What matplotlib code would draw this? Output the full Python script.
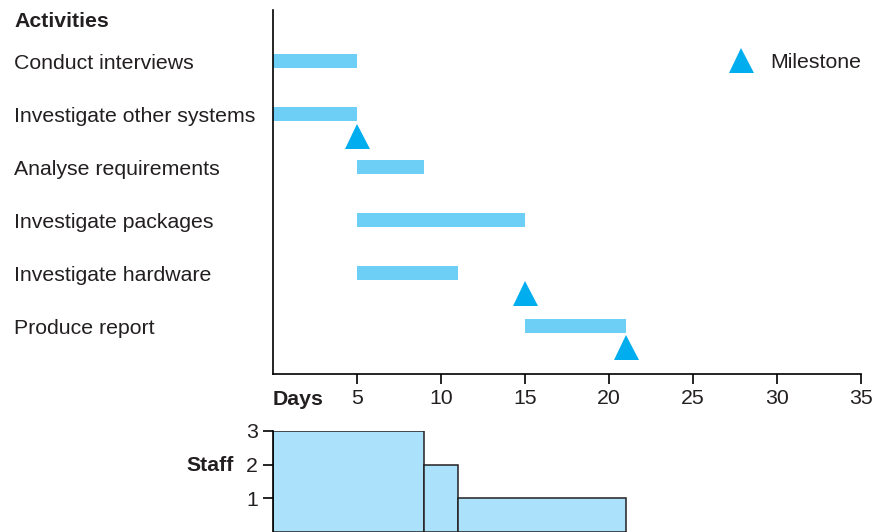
import numpy as np
import matplotlib.pyplot as plt
import matplotlib.transforms as mtransforms
from matplotlib.lines import Line2D

plt.rcParams['font.family'] = ['Liberation Sans', 'DejaVu Sans']

# activity data (days)
activities = ['Conduct interviews', 'Investigate other systems', 'Analyse requirements',
              'Investigate packages', 'Investigate hardware', 'Produce report']
starts = [0, 0, 5, 5, 5, 15]
durations = [5, 5, 4, 10, 6, 6]

# milestones: day and row position (offset below the row)
milestone_days = [5, 15, 21]
milestone_rows = [1.41, 4.38, 5.40]

# staff histogram
staff_left = [0, 9, 11]
staff_width = [9, 2, 10]
staff_count = [3, 2, 1]

xticks = [5, 10, 15, 20, 25, 30, 35]

W, H = 881, 532
fs = 15.3
fig = plt.figure(figsize=(W / 100, H / 100), dpi=100)
txt = '#231f20'

# top gantt axes
ax = fig.add_axes([273 / W, (H - 374) / H, 588 / W, 364 / H])
ax.set_xlim(0, 35)
ax.set_ylim(5.906, -0.962)
for i in range(len(activities)):
    ax.barh(i, durations[i], left=starts[i], height=0.27, color='#6dcff6', linewidth=0)
ax.plot(milestone_days, milestone_rows, linestyle='none', marker='^', markersize=18,
        color='#00aeef', markeredgewidth=0)

for s in ['top', 'right']:
    ax.spines[s].set_visible(False)
ax.spines['left'].set_linewidth(1.2)
ax.spines['bottom'].set_linewidth(1.2)
ax.set_yticks([])
ax.set_xticks(xticks)
ax.tick_params(axis='x', direction='out', length=7, width=1.2, pad=4,
               labelsize=fs, labelcolor=txt)

trans = mtransforms.blended_transform_factory(fig.transFigure, ax.transData)
for i, name in enumerate(activities):
    ax.text(14 / W, i + 0.05, name, transform=trans, fontsize=fs, color=txt,
            ha='left', va='center')
ax.text(14 / W, -0.75, 'Activities', transform=trans, fontsize=fs, color=txt,
        fontweight='bold', ha='left', va='center')
days_trans = ax.get_xaxis_transform() + mtransforms.ScaledTranslation(0, -11.5 / 72, fig.dpi_scale_trans)
ax.text(0, 0, 'Days', transform=days_trans, fontsize=fs,
        color=txt, fontweight='bold', ha='left', va='top')

# milestone legend
handle = Line2D([], [], linestyle='none', marker='^', markersize=18,
                color='#00aeef', markeredgewidth=0)
ax.legend([handle], ['Milestone'], frameon=False, loc='center right',
          bbox_to_anchor=(1.019, 1 - (62 - 10) / 364), fontsize=fs,
          handletextpad=0.4, labelcolor=txt, borderpad=0)

# bottom staff axes
ax2 = fig.add_axes([273 / W, 0, 588 / W, (H - 431) / H])
ax2.set_xlim(0, 35)
ax2.set_ylim(0, 3)
ax2.bar(staff_left, staff_count, width=staff_width, align='edge',
        color='#abe1fa', edgecolor='#231f20', linewidth=1.1)
for s in ['top', 'right', 'bottom']:
    ax2.spines[s].set_visible(False)
ax2.spines['left'].set_linewidth(1.2)
ax2.set_xticks([])
ax2.set_yticks([1, 2, 3])
ax2.tick_params(axis='y', direction='out', length=7, width=1.2, pad=4,
                labelsize=fs, labelcolor=txt)
ax2.text(234 / W, 1.98, 'Staff', transform=mtransforms.blended_transform_factory(fig.transFigure, ax2.transData),
         fontsize=fs, color=txt, fontweight='bold', ha='right', va='center')

fig.savefig('out.png', dpi=100)
